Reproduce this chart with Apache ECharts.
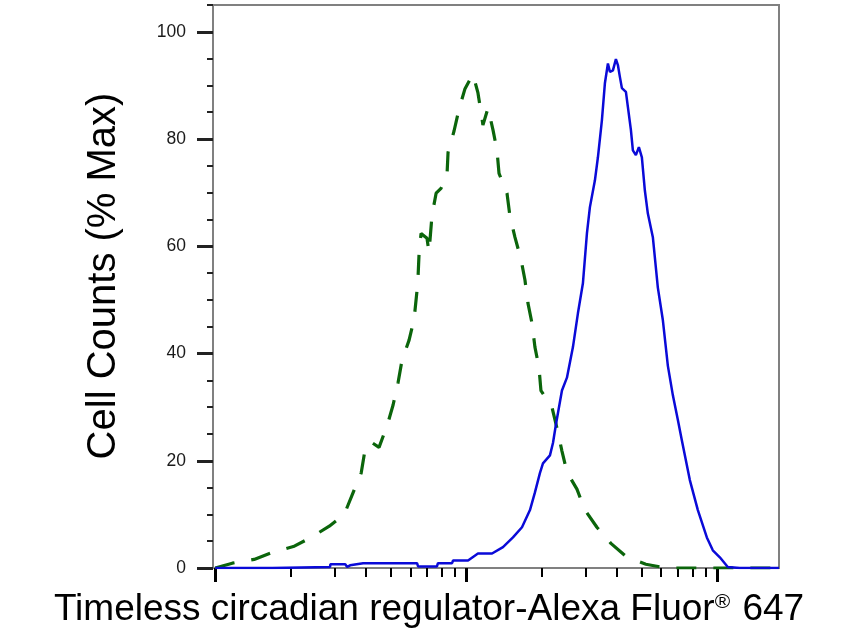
<!DOCTYPE html>
<html>
<head>
<meta charset="utf-8">
<script src="https://cdn.jsdelivr.net/npm/echarts@6/dist/echarts.min.js"></script>
<style>
html,body{margin:0;padding:0;background:#fff;}
#chart{width:856px;height:642px;}
</style>
</head>
<body>
<div id="chart"></div>
<script>
// Green dashed histogram (control)
var greenX = [1.00, 1.17, 1.43, 1.69, 2.05, 2.41, 2.85, 3.27, 3.55, 3.82, 3.96, 4.18, 4.50, 4.85, 5.12, 5.36, 5.56, 5.93, 6.21, 6.38, 6.44, 6.50, 6.62, 6.99, 7.12, 7.32, 7.60, 7.95, 8.40, 8.48, 8.96, 9.38, 9.91, 10.66, 11.16, 11.58, 11.68, 12.24, 12.81, 13.29, 13.54, 14.57, 14.97, 15.67, 16.56, 17.18, 17.66, 18.32, 18.83, 19.54, 19.90, 22.01, 23.26, 24.13, 25.26, 27.69, 29.80, 33.26, 37.82, 43.80, 52.13, 62.64, 93.8, 177];
var greenY = [0, 0.9, 1.6, 2.9, 4.0, 5.7, 7.8, 10.0, 14.1, 17.7, 22.1, 23.5, 22.5, 26.6, 30.4, 34.6, 38.8, 42.5, 46.4, 51.8, 54.4, 58.7, 62.4, 61.5, 58.9, 65.8, 69.9, 70.8, 73.3, 77.5, 81.5, 85.6, 89.4, 92.1, 88.6, 83.9, 82.6, 85.8, 81.7, 77.9, 73.6, 69.9, 65.6, 61.7, 57.6, 53.7, 49.4, 45.7, 41.2, 37.4, 33.1, 30.0, 25.3, 21.8, 17.9, 14.7, 10.8, 7.6, 4.6, 2.0, 0.7, 0, 0, 0];
// Blue solid histogram (stained)
var blueX = [1.00, 1.69, 1.70, 2.87, 2.88, 3.30, 3.36, 3.45, 3.89, 6.38, 6.44, 7.66, 7.73, 8.80, 8.88, 10.19, 11.16, 12.70, 14.04, 15.39, 16.72, 17.99, 18.83, 19.71, 20.27, 21.61, 22.22, 22.84, 24.13, 25.26, 26.69, 27.94, 29.25, 30.35, 31.19, 32.66, 33.57, 34.82, 35.79, 36.80, 37.49, 38.53, 39.60, 40.33, 41.07, 41.84, 43.41, 44.20, 45.44, 46.28, 47.57, 48.90, 50.26, 51.66, 53.10, 55.59, 58.20, 60.95, 63.81, 66.81, 69.95, 72.57, 78.07, 84.03, 91.26, 96.4, 102.8, 110.6, 123.5, 177];
var blueY = [0, 0, 0.2, 0.2, 0.7, 0.7, 0.2, 0.5, 0.9, 0.9, 0.3, 0.3, 0.9, 0.9, 1.4, 1.4, 2.7, 2.7, 3.9, 5.7, 7.6, 10.8, 14.1, 17.7, 19.5, 21.0, 23.3, 26.8, 33.1, 35.5, 41.2, 47.5, 53.1, 62.4, 67.3, 72.3, 76.6, 83.5, 90.4, 94.1, 92.5, 92.8, 94.9, 93.8, 91.6, 89.5, 88.8, 86.0, 81.7, 77.9, 77.0, 78.5, 76.6, 70.4, 66.1, 61.7, 52.3, 46.2, 37.7, 32.2, 27.6, 23.8, 16.4, 10.8, 5.7, 3.3, 2.0, 0.2, 0, 0];

var xMajorTicks = [1, 10, 100];
var xMinorTicks = [2, 3, 4, 5, 6, 7, 8, 9, 20, 30, 40, 50, 60, 70, 80, 90];
var yLabels = [0, 20, 40, 60, 80, 100];
var yMinorTicks = [0, 5, 10, 15, 20, 25, 30, 35, 40, 45, 50, 55, 60, 65, 70, 75, 80, 85, 90, 95, 100, 105];

var xTitle = 'Timeless circadian regulator-Alexa Fluor{sup|®} 647';
var yTitle = 'Cell Counts (% Max)';

function zip(a, b) { return a.map(function (v, i) { return [v, b[i]]; }); }

var FONT = '"Liberation Sans", Arial, sans-serif';
var xMin = 0.98, xMax = 177, yMin = 0, yMax = 105;

var chart = echarts.init(document.getElementById('chart'), null, {renderer: 'canvas'});
chart.setOption({
  animation: false,
  backgroundColor: '#fff',
  grid: {left: 213, right: 77, top: 5, bottom: 74, show: true, borderColor: '#808080', borderWidth: 2, outerBoundsMode: 'none', containLabel: false},
  xAxis: [
    {type: 'log', logBase: 10, min: xMin, max: xMax, position: 'bottom',
      axisLine: {show: true, lineStyle: {color: '#808080', width: 2}},
      axisTick: {show: true, inside: false, length: 14, customValues: xMajorTicks, lineStyle: {color: '#000', width: 3}},
      axisLabel: {show: false}, splitLine: {show: false}, minorTick: {show: false}},
    {type: 'log', logBase: 10, min: xMin, max: xMax, position: 'bottom',
      axisLine: {show: false},
      axisTick: {show: true, inside: false, length: 9, customValues: xMinorTicks, lineStyle: {color: '#000', width: 2}},
      axisLabel: {show: false}, splitLine: {show: false}}
  ],
  yAxis: [
    {type: 'value', min: yMin, max: yMax, position: 'left',
      axisLine: {show: true, lineStyle: {color: '#808080', width: 2}},
      axisTick: {show: true, inside: false, length: 16, customValues: yLabels, lineStyle: {color: '#222', width: 3}},
      axisLabel: {show: true, customValues: yLabels, margin: 27, color: '#1a1a1a', fontSize: 17.5, fontFamily: FONT},
      splitLine: {show: false}},
    {type: 'value', min: yMin, max: yMax, position: 'left',
      axisLine: {show: false},
      axisTick: {show: true, inside: false, length: 6, customValues: yMinorTicks, lineStyle: {color: '#222', width: 2}},
      axisLabel: {show: false}, splitLine: {show: false}}
  ],
  series: [
    {type: 'line', name: 'control', xAxisIndex: 0, yAxisIndex: 0, data: zip(greenX, greenY), showSymbol: false, symbol: 'none',
      lineStyle: {color: '#0b650b', width: 3.2, type: [20, 17]}, z: 3},
    {type: 'line', name: 'stained', xAxisIndex: 0, yAxisIndex: 0, data: zip(blueX, blueY), showSymbol: false, symbol: 'none',
      lineStyle: {color: '#0a0ad8', width: 2.5, type: 'solid'}, z: 4}
  ],
  graphic: [
    {type: 'text', x: 104, y: 276, rotation: Math.PI / 2,
      style: {text: yTitle, font: '40px ' + FONT, fill: '#000', align: 'center', verticalAlign: 'middle'}},
    {type: 'text', x: 429, y: 610,
      style: {text: xTitle, font: '37px ' + FONT, fill: '#000', align: 'center', verticalAlign: 'middle',
        rich: {sup: {fontSize: 21, fontFamily: FONT, verticalAlign: 'top', fill: '#000', padding: [0, 2, 14, 0]}}}}
  ]
});
</script>
</body>
</html>
